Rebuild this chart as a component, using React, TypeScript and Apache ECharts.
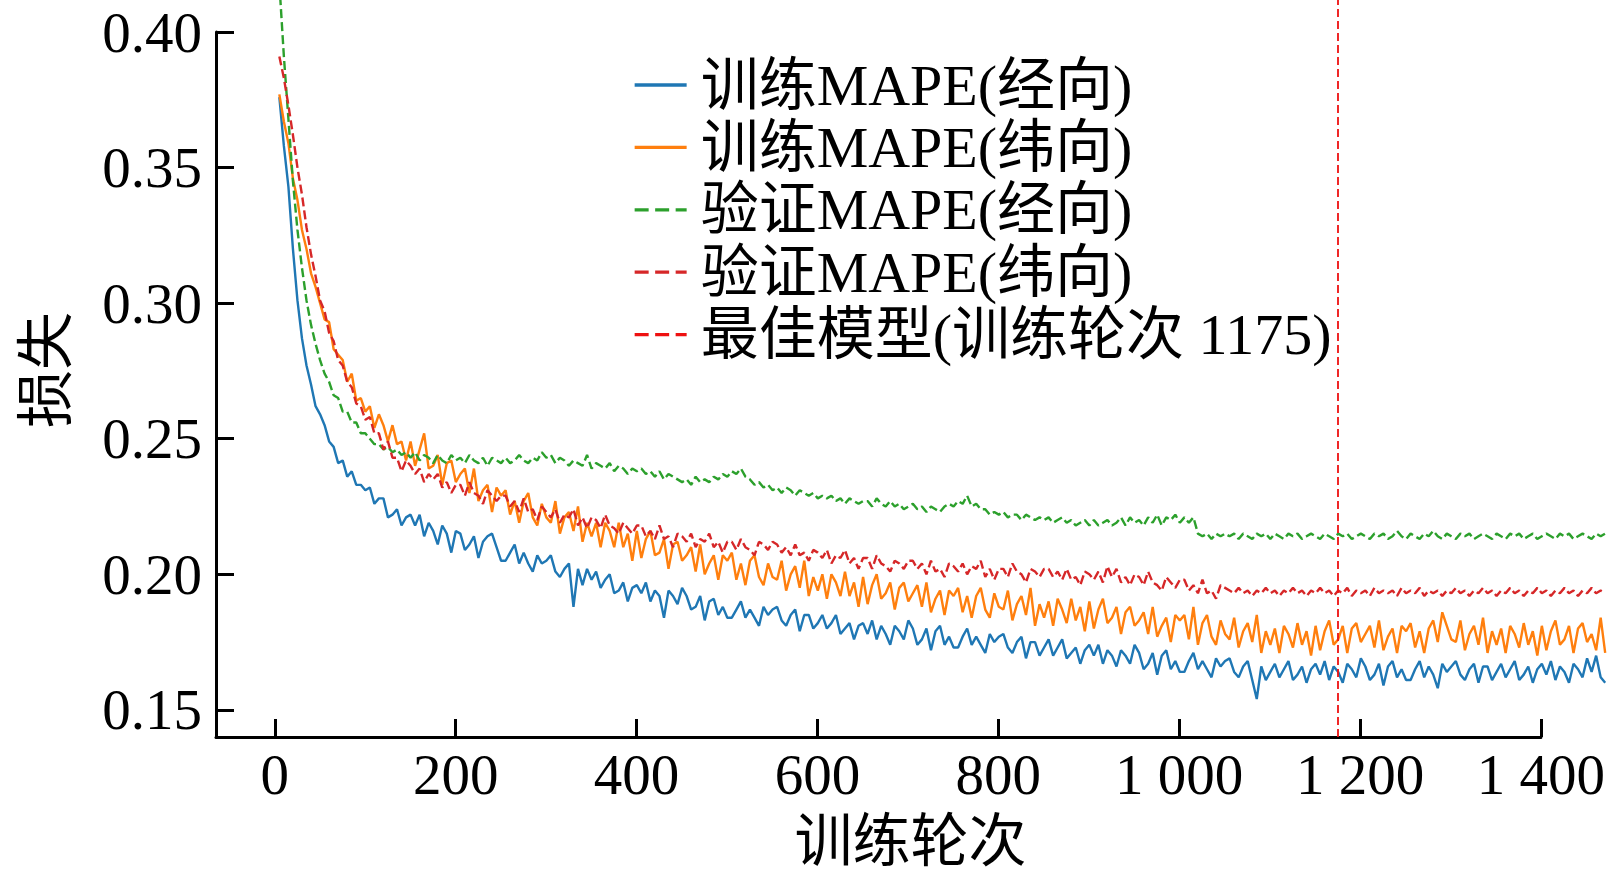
import { useEffect, useRef } from 'react';
import * as echarts from 'echarts';

// epochs run 5, 10, 15 ... 1470 (one value every 5 epochs)
const EPOCH_START = 5;
const EPOCH_STEP = 5;
const BEST_EPOCH = 1175;

const X_TICKS = [0, 200, 400, 600, 800, 1000, 1200, 1400];
const Y_TICKS = [0.15, 0.2, 0.25, 0.3, 0.35, 0.4];

const NAMES = ['训练MAPE(经向)', '训练MAPE(纬向)', '验证MAPE(经向)', '验证MAPE(纬向)'];
const COLORS = ['#1f77b4', '#ff7f0e', '#2ca02c', '#d62728'];
const BEST_COLOR = '#ee1111';

const TRAIN_LON = [
  0.376, 0.358, 0.343, 0.320, 0.301, 0.287, 0.277, 0.270, 0.262, 0.259,
  0.255, 0.249, 0.247, 0.241, 0.242, 0.236, 0.238, 0.233, 0.233, 0.231,
  0.232, 0.226, 0.228, 0.228, 0.221, 0.222, 0.224, 0.218, 0.221, 0.222,
  0.218, 0.222, 0.214, 0.219, 0.216, 0.211, 0.218, 0.215, 0.208, 0.216,
  0.215, 0.209, 0.211, 0.214, 0.206, 0.212, 0.214, 0.215, 0.210, 0.205,
  0.205, 0.208, 0.211, 0.204, 0.208, 0.204, 0.201, 0.207, 0.204, 0.205,
  0.207, 0.201, 0.199, 0.202, 0.204, 0.188, 0.202, 0.196, 0.202, 0.198,
  0.201, 0.195, 0.198, 0.200, 0.193, 0.194, 0.197, 0.190, 0.195, 0.196,
  0.193, 0.197, 0.190, 0.194, 0.192, 0.184, 0.194, 0.192, 0.189, 0.195,
  0.192, 0.187, 0.188, 0.192, 0.183, 0.190, 0.191, 0.185, 0.188, 0.184,
  0.184, 0.187, 0.190, 0.184, 0.187, 0.184, 0.181, 0.188, 0.185, 0.187,
  0.188, 0.183, 0.181, 0.185, 0.187, 0.179, 0.185, 0.185, 0.180, 0.182,
  0.185, 0.180, 0.182, 0.185, 0.178, 0.180, 0.182, 0.176, 0.181, 0.182,
  0.178, 0.183, 0.176, 0.181, 0.178, 0.174, 0.181, 0.179, 0.176, 0.183,
  0.180, 0.174, 0.176, 0.180, 0.172, 0.179, 0.181, 0.174, 0.177, 0.173,
  0.173, 0.177, 0.180, 0.174, 0.177, 0.174, 0.171, 0.178, 0.175, 0.177,
  0.178, 0.173, 0.171, 0.175, 0.177, 0.169, 0.175, 0.175, 0.170, 0.173,
  0.176, 0.170, 0.173, 0.176, 0.169, 0.171, 0.173, 0.167, 0.172, 0.174,
  0.170, 0.174, 0.167, 0.172, 0.170, 0.166, 0.172, 0.170, 0.167, 0.174,
  0.171, 0.165, 0.167, 0.171, 0.163, 0.170, 0.172, 0.165, 0.168, 0.164,
  0.164, 0.168, 0.171, 0.165, 0.168, 0.165, 0.162, 0.169, 0.166, 0.168,
  0.169, 0.164, 0.162, 0.166, 0.168, 0.161, 0.154, 0.166, 0.161, 0.164,
  0.167, 0.162, 0.165, 0.168, 0.161, 0.163, 0.166, 0.160, 0.165, 0.167,
  0.163, 0.168, 0.161, 0.166, 0.164, 0.160, 0.167, 0.165, 0.162, 0.169,
  0.166, 0.161, 0.163, 0.167, 0.159, 0.166, 0.168, 0.162, 0.165, 0.161,
  0.161, 0.165, 0.168, 0.162, 0.166, 0.163, 0.158, 0.167, 0.164, 0.166,
  0.168, 0.163, 0.161, 0.165, 0.167, 0.160, 0.166, 0.166, 0.161, 0.164,
  0.167, 0.162, 0.165, 0.168, 0.161, 0.163, 0.166, 0.160, 0.165, 0.167,
  0.163, 0.168, 0.161, 0.166, 0.164, 0.160, 0.167, 0.165, 0.162, 0.169,
  0.164, 0.170, 0.162, 0.160,
];

const TRAIN_LAT = [
  0.377, 0.367, 0.359, 0.346, 0.338, 0.327, 0.320, 0.311, 0.306, 0.300,
  0.294, 0.293, 0.283, 0.281, 0.279, 0.271, 0.274, 0.264, 0.265, 0.260,
  0.262, 0.254, 0.259, 0.255, 0.249, 0.255, 0.248, 0.249, 0.242, 0.249,
  0.240, 0.246, 0.252, 0.239, 0.240, 0.244, 0.233, 0.241, 0.242, 0.234,
  0.237, 0.239, 0.230, 0.239, 0.227, 0.231, 0.233, 0.223, 0.232, 0.229,
  0.231, 0.222, 0.227, 0.219, 0.227, 0.230, 0.221, 0.218, 0.226, 0.221,
  0.219, 0.227, 0.215, 0.221, 0.223, 0.216, 0.225, 0.212, 0.219, 0.214,
  0.219, 0.210, 0.219, 0.216, 0.210, 0.219, 0.210, 0.215, 0.205, 0.216,
  0.206, 0.213, 0.216, 0.207, 0.208, 0.213, 0.202, 0.211, 0.212, 0.205,
  0.207, 0.210, 0.201, 0.211, 0.200, 0.204, 0.207, 0.198, 0.207, 0.205,
  0.208, 0.198, 0.204, 0.196, 0.205, 0.207, 0.199, 0.196, 0.204, 0.199,
  0.198, 0.205, 0.194, 0.200, 0.203, 0.195, 0.205, 0.192, 0.199, 0.194,
  0.200, 0.191, 0.200, 0.197, 0.192, 0.201, 0.192, 0.197, 0.188, 0.199,
  0.189, 0.196, 0.200, 0.191, 0.193, 0.197, 0.187, 0.195, 0.197, 0.190,
  0.193, 0.196, 0.188, 0.197, 0.186, 0.191, 0.194, 0.185, 0.194, 0.192,
  0.195, 0.186, 0.192, 0.184, 0.192, 0.195, 0.187, 0.184, 0.193, 0.188,
  0.187, 0.194, 0.183, 0.189, 0.192, 0.185, 0.195, 0.181, 0.189, 0.184,
  0.190, 0.181, 0.191, 0.187, 0.182, 0.191, 0.183, 0.188, 0.179, 0.190,
  0.180, 0.187, 0.191, 0.182, 0.184, 0.188, 0.178, 0.186, 0.188, 0.181,
  0.183, 0.186, 0.178, 0.188, 0.177, 0.181, 0.184, 0.175, 0.185, 0.183,
  0.185, 0.176, 0.188, 0.174, 0.182, 0.185, 0.177, 0.174, 0.183, 0.178,
  0.176, 0.184, 0.173, 0.179, 0.182, 0.175, 0.185, 0.171, 0.179, 0.174,
  0.180, 0.171, 0.181, 0.178, 0.173, 0.182, 0.174, 0.179, 0.170, 0.181,
  0.172, 0.179, 0.183, 0.174, 0.176, 0.181, 0.171, 0.180, 0.182, 0.175,
  0.178, 0.181, 0.173, 0.183, 0.172, 0.177, 0.180, 0.171, 0.181, 0.179,
  0.182, 0.173, 0.179, 0.171, 0.180, 0.183, 0.175, 0.186, 0.181, 0.176,
  0.175, 0.183, 0.172, 0.178, 0.181, 0.174, 0.184, 0.171, 0.179, 0.174,
  0.180, 0.171, 0.181, 0.178, 0.173, 0.182, 0.174, 0.179, 0.170, 0.181,
  0.172, 0.179, 0.183, 0.174, 0.176, 0.181, 0.171, 0.180, 0.182, 0.175,
  0.178, 0.172, 0.184, 0.171,
];

const VAL_LON = [
  0.418, 0.391, 0.368, 0.345, 0.327, 0.313, 0.301, 0.292, 0.285, 0.279,
  0.274, 0.271, 0.266, 0.265, 0.260, 0.260, 0.256, 0.256, 0.252, 0.252,
  0.250, 0.248, 0.248, 0.246, 0.247, 0.245, 0.246, 0.244, 0.245, 0.243,
  0.245, 0.242, 0.244, 0.243, 0.241, 0.244, 0.242, 0.241, 0.244, 0.242,
  0.243, 0.241, 0.244, 0.242, 0.241, 0.243, 0.240, 0.243, 0.242, 0.241,
  0.243, 0.241, 0.242, 0.244, 0.242, 0.241, 0.243, 0.242, 0.245, 0.243,
  0.244, 0.241, 0.243, 0.242, 0.240, 0.242, 0.241, 0.240, 0.244, 0.239,
  0.241, 0.240, 0.239, 0.241, 0.238, 0.240, 0.239, 0.237, 0.239, 0.238,
  0.239, 0.237, 0.238, 0.236, 0.238, 0.235, 0.237, 0.236, 0.235, 0.234,
  0.235, 0.233, 0.236, 0.234, 0.235, 0.234, 0.236, 0.235, 0.237, 0.236,
  0.238, 0.237, 0.239, 0.236, 0.235, 0.233, 0.234, 0.232, 0.233, 0.231,
  0.232, 0.230, 0.232, 0.231, 0.229, 0.231, 0.230, 0.229, 0.230, 0.228,
  0.229, 0.228, 0.229, 0.227, 0.228, 0.226, 0.228, 0.227, 0.226, 0.227,
  0.227, 0.225, 0.228, 0.226, 0.225, 0.227, 0.225, 0.226, 0.224, 0.225,
  0.226, 0.224, 0.225, 0.223, 0.225, 0.224, 0.223, 0.225, 0.226, 0.225,
  0.227, 0.226, 0.229, 0.225, 0.226, 0.224, 0.224, 0.222, 0.223, 0.222,
  0.223, 0.221, 0.222, 0.222, 0.220, 0.222, 0.221, 0.220, 0.221, 0.220,
  0.221, 0.219, 0.220, 0.221, 0.219, 0.220, 0.218, 0.219, 0.220, 0.218,
  0.220, 0.218, 0.219, 0.220, 0.218, 0.219, 0.221, 0.218, 0.221, 0.219,
  0.220, 0.218, 0.221, 0.219, 0.222, 0.218, 0.221, 0.220, 0.222, 0.219,
  0.221, 0.219, 0.221, 0.215, 0.214, 0.215, 0.213, 0.215, 0.214, 0.215,
  0.214, 0.215, 0.213, 0.215, 0.214, 0.213, 0.215, 0.214, 0.215, 0.213,
  0.215, 0.214, 0.213, 0.215, 0.214, 0.215, 0.213, 0.214, 0.215, 0.214,
  0.213, 0.215, 0.214, 0.213, 0.215, 0.214, 0.215, 0.213, 0.214, 0.215,
  0.214, 0.213, 0.215, 0.214, 0.215, 0.213, 0.214, 0.216, 0.214, 0.213,
  0.215, 0.214, 0.213, 0.215, 0.214, 0.216, 0.214, 0.213, 0.215, 0.214,
  0.213, 0.215, 0.214, 0.215, 0.213, 0.214, 0.215, 0.214, 0.213, 0.215,
  0.214, 0.213, 0.215, 0.214, 0.215, 0.213, 0.214, 0.215, 0.213, 0.214,
  0.215, 0.214, 0.213, 0.215, 0.214, 0.215, 0.213, 0.214, 0.215, 0.214,
  0.213, 0.215, 0.214, 0.215,
];

const VAL_LAT = [
  0.391, 0.383, 0.373, 0.362, 0.350, 0.340, 0.328, 0.318, 0.310, 0.301,
  0.297, 0.289, 0.286, 0.279, 0.277, 0.271, 0.269, 0.263, 0.262, 0.257,
  0.258, 0.252, 0.252, 0.246, 0.249, 0.243, 0.243, 0.238, 0.242, 0.240,
  0.237, 0.239, 0.234, 0.237, 0.235, 0.237, 0.232, 0.234, 0.230, 0.233,
  0.233, 0.229, 0.234, 0.230, 0.229, 0.226, 0.231, 0.229, 0.227, 0.229,
  0.229, 0.225, 0.227, 0.223, 0.228, 0.223, 0.224, 0.220, 0.225, 0.223,
  0.221, 0.224, 0.219, 0.222, 0.221, 0.224, 0.218, 0.221, 0.217, 0.221,
  0.220, 0.217, 0.222, 0.218, 0.217, 0.215, 0.219, 0.217, 0.215, 0.218,
  0.218, 0.214, 0.216, 0.213, 0.218, 0.213, 0.214, 0.210, 0.215, 0.214,
  0.212, 0.215, 0.210, 0.213, 0.212, 0.215, 0.210, 0.212, 0.208, 0.212,
  0.212, 0.209, 0.213, 0.210, 0.209, 0.207, 0.212, 0.211, 0.209, 0.212,
  0.211, 0.208, 0.210, 0.207, 0.211, 0.207, 0.208, 0.205, 0.209, 0.208,
  0.206, 0.209, 0.204, 0.207, 0.206, 0.209, 0.204, 0.206, 0.202, 0.206,
  0.206, 0.202, 0.207, 0.204, 0.203, 0.201, 0.205, 0.204, 0.202, 0.205,
  0.205, 0.202, 0.204, 0.200, 0.205, 0.201, 0.202, 0.199, 0.204, 0.203,
  0.201, 0.204, 0.200, 0.203, 0.202, 0.205, 0.199, 0.202, 0.198, 0.202,
  0.202, 0.199, 0.204, 0.201, 0.200, 0.197, 0.202, 0.201, 0.199, 0.202,
  0.202, 0.199, 0.201, 0.198, 0.202, 0.198, 0.199, 0.196, 0.201, 0.200,
  0.198, 0.201, 0.197, 0.203, 0.199, 0.202, 0.197, 0.199, 0.196, 0.200,
  0.199, 0.196, 0.201, 0.197, 0.196, 0.194, 0.199, 0.197, 0.195, 0.198,
  0.198, 0.194, 0.196, 0.193, 0.198, 0.193, 0.194, 0.191, 0.196, 0.195,
  0.194, 0.193, 0.195, 0.193, 0.194, 0.192, 0.194, 0.193, 0.195, 0.193,
  0.194, 0.192, 0.194, 0.193, 0.195, 0.193, 0.194, 0.192, 0.194, 0.193,
  0.195, 0.193, 0.194, 0.192, 0.194, 0.193, 0.195, 0.192, 0.194, 0.193,
  0.194, 0.192, 0.195, 0.193, 0.194, 0.193, 0.194, 0.192, 0.195, 0.193,
  0.194, 0.193, 0.195, 0.192, 0.194, 0.193, 0.194, 0.192, 0.194, 0.193,
  0.195, 0.193, 0.194, 0.192, 0.194, 0.193, 0.195, 0.193, 0.194, 0.192,
  0.194, 0.193, 0.195, 0.193, 0.194, 0.192, 0.194, 0.193, 0.195, 0.193,
  0.194, 0.192, 0.194, 0.193, 0.195, 0.193, 0.194, 0.192, 0.194, 0.193,
  0.195, 0.193, 0.194, 0.193,
];

const SERIES_VALUES = [TRAIN_LON, TRAIN_LAT, VAL_LON, VAL_LAT];
const DASHED = [false, false, true, true];

const FONT = "'Liberation Serif', 'Noto Sans CJK SC', serif";

function fmtEpoch(v: number) {
  if (v >= 1000) return `${Math.floor(v / 1000)} ${String(v % 1000).padStart(3, '0')}`;
  return String(v);
}

export default function App() {
  const ref = useRef<HTMLDivElement>(null);

  useEffect(() => {
    if (!ref.current) return;
    const chart = echarts.init(ref.current, null, { renderer: 'svg' });

    const lineSeries = SERIES_VALUES.map((vals, k) => ({
      name: NAMES[k],
      type: 'line',
      xAxisIndex: 1,
      yAxisIndex: 1,
      symbol: 'none',
      showSymbol: false,
      data: vals.map((v, i) => [EPOCH_START + i * EPOCH_STEP, v]),
      itemStyle: { color: COLORS[k] },
      lineStyle: { color: COLORS[k], width: 2.4, type: DASHED[k] ? [9, 4] : 'solid' },
    }));

    const bestName = `最佳模型(训练轮次 ${BEST_EPOCH})`;

    chart.setOption({
      animation: false,
      textStyle: { fontFamily: FONT },
      grid: [
        { left: 216, right: 66, top: 32, bottom: 151 },
        { left: 216, right: 1, top: 0, bottom: 151 },
      ],
      xAxis: [
        {
          gridIndex: 0,
          type: 'value',
          min: -65,
          max: 1400,
          axisLine: { show: true, onZero: false, lineStyle: { color: '#000', width: 3 } },
          axisTick: { show: true, inside: true, length: 18, customValues: X_TICKS, lineStyle: { color: '#000', width: 3 } },
          axisLabel: { customValues: X_TICKS, formatter: fmtEpoch, color: '#000', fontSize: 57, fontFamily: FONT, margin: 9 },
          splitLine: { show: false },
          name: '训练轮次',
          nameLocation: 'middle',
          nameGap: 75,
          nameTextStyle: { color: '#000', fontSize: 58, fontFamily: FONT, padding: [0, 0, 0, 64] },
        },
        { gridIndex: 1, type: 'value', min: -65, max: 1472, show: false, splitLine: { show: false } },
      ],
      yAxis: [
        {
          gridIndex: 0,
          type: 'value',
          min: 0.14,
          max: 0.4,
          axisLine: { show: true, onZero: false, lineStyle: { color: '#000', width: 3 } },
          axisTick: { show: true, inside: true, length: 18, customValues: Y_TICKS, lineStyle: { color: '#000', width: 3 } },
          axisLabel: { customValues: Y_TICKS, formatter: (v: number) => v.toFixed(2), color: '#000', fontSize: 57, fontFamily: FONT, margin: 14 },
          splitLine: { show: false },
          name: '损失',
          nameLocation: 'middle',
          nameGap: 141,
          nameRotate: 90,
          nameTextStyle: { color: '#000', fontSize: 58, fontFamily: FONT, padding: [0, 0, 0, 29] },
        },
        { gridIndex: 1, type: 'value', min: 0.14, max: 0.4118, show: false, splitLine: { show: false } },
      ],
      legend: {
        orient: 'vertical',
        left: 633,
        top: 56,
        padding: 0,
        itemGap: 4.4,
        itemWidth: 52,
        itemHeight: 20,
        itemStyle: { opacity: 0 },
        textStyle: { color: '#000', fontSize: 58, fontFamily: FONT, padding: [0, 0, 0, 9] },
        data: [
          ...NAMES.map((n, k) => ({
            name: n,
            lineStyle: { width: 3.3, type: DASHED[k] ? [14, 6.5] : 'solid' },
          })),
          { name: bestName, lineStyle: { width: 3.3, type: [14, 6.5] } },
        ],
      },
      series: [
        ...lineSeries,
        {
          name: bestName,
          type: 'line',
          xAxisIndex: 1,
          yAxisIndex: 1,
          symbol: 'none',
          data: [],
          itemStyle: { color: BEST_COLOR },
          lineStyle: { color: BEST_COLOR, width: 2, type: [8, 4] },
          markLine: {
            silent: true,
            symbol: ['none', 'none'],
            label: { show: false },
            lineStyle: { color: BEST_COLOR, width: 1.8, type: [8, 4] },
            data: [{ xAxis: BEST_EPOCH }],
          },
        },
      ],
    });

    return () => chart.dispose();
  }, []);

  return <div ref={ref} style={{ position: 'fixed', left: 0, top: 0, width: 1608, height: 888, background: '#fff' }} />;
}
